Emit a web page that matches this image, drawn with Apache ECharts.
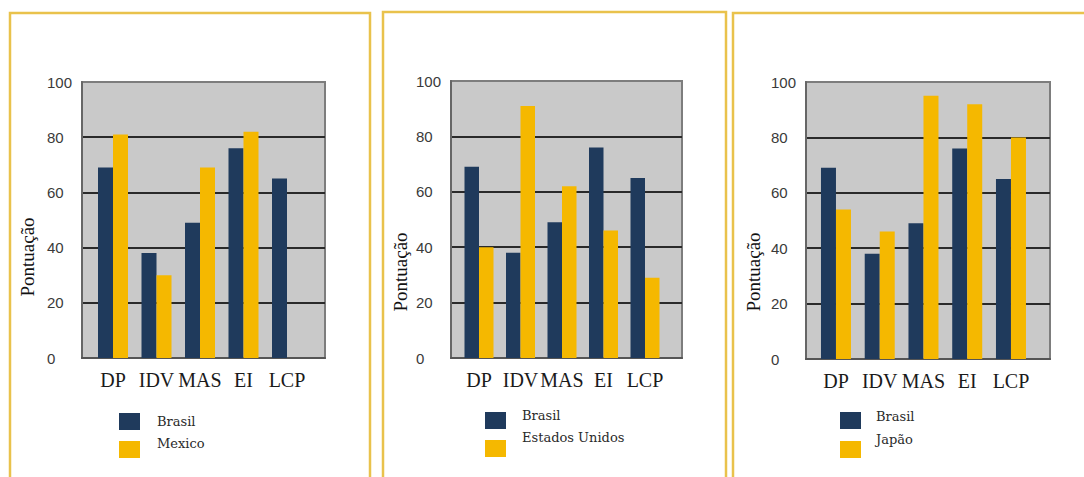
<!DOCTYPE html>
<html>
<head>
<meta charset="utf-8">
<script src="https://cdn.jsdelivr.net/npm/echarts@6/dist/echarts.min.js"></script>
<style>
html,body{margin:0;padding:0;background:#fff;}
#chart{width:1084px;height:477px;}
</style>
</head>
<body>
<div id="chart"></div>
<script>
// ---- data ----
const categories = ['DP', 'IDV', 'MAS', 'EI', 'LCP'];
const yTickMin = 0, yTickMax = 100, yTickStep = 20;
const brasil = [69, 38, 49, 76, 65];
const mexico = [81, 30, 69, 82, null];
const estadosUnidos = [40, 91, 62, 46, 29];
const japao = [54, 46, 95, 92, 80];
const nameBrasil = 'Brasil';
const nameMexico = 'Mexico';
const nameEUA = 'Estados Unidos';
const nameJapao = 'Japão';
const yTitle = 'Pontuação';

// ---- layout / style ----
const NAVY = '#1f3a5c';
const GOLD = '#f5b800';
const panels = [
  { other: mexico, otherName: nameMexico,
    frame: {x: 10, y: 13, w: 360},
    plot: {l: 82, r: 325, t: 82, b: 358},
    bars: {l: 91.25, w: 217.5}, barW: 15,
    title: {x: 27, y: 257},
    legend: {l: 119, tops: [413, 442], pad: 12, shift: [0, 13]} },
  { other: estadosUnidos, otherName: nameEUA,
    frame: {x: 383, y: 12, w: 343},
    plot: {l: 451, r: 682, t: 81, b: 358},
    bars: {l: 458.25, w: 207.5}, barW: 14.5,
    title: {x: 400, y: 272},
    legend: {l: 485, tops: [413, 441], pad: 11, shift: [10, 22]} },
  { other: japao, otherName: nameJapao,
    frame: {x: 733, y: 13, w: 400},
    plot: {l: 806, r: 1050, t: 82, b: 359},
    bars: {l: 814.1, w: 218.75}, barW: 15,
    title: {x: 753, y: 272},
    legend: {l: 840, tops: [413, 442], pad: 10, shift: [8, 20]} }
];
const LEGEND_TEXT_H = 15;

const grid = [], xAxis = [], yAxis = [], series = [], legend = [], graphic = [];
panels.forEach((p, i) => {
  const a = 2 * i, b = 2 * i + 1;
  grid.push({left: p.plot.l, width: p.plot.r - p.plot.l, top: p.plot.t, height: p.plot.b - p.plot.t,
    show: true, backgroundColor: '#c9c9c9', borderColor: '#7d7d7d', borderWidth: 2});
  grid.push({left: p.bars.l, width: p.bars.w, top: p.plot.t, height: p.plot.b - p.plot.t});
  xAxis.push({gridIndex: a, type: 'category', data: categories,
    axisLabel: {show: false}, axisTick: {show: false},
    axisLine: {lineStyle: {color: '#555', width: 2}}});
  yAxis.push({gridIndex: a, type: 'value', min: yTickMin, max: yTickMax, interval: yTickStep,
    axisLine: {show: true, lineStyle: {color: '#666', width: 2}}, axisTick: {show: false},
    splitLine: {lineStyle: {color: ['#555', '#2a2a2a', '#2a2a2a', '#2a2a2a', '#2a2a2a', '#7d7d7d'], width: 2}},
    axisLabel: {align: 'left', margin: 35, fontFamily: 'Liberation Sans', fontSize: 15, color: '#3a3a3a'}});
  xAxis.push({gridIndex: b, type: 'category', data: categories,
    axisLine: {show: false}, axisTick: {show: false},
    axisLabel: {interval: 0, hideOverlap: false, margin: 12,
      fontFamily: 'Liberation Serif', fontSize: 20, color: '#1a1a1a'}});
  yAxis.push({gridIndex: b, type: 'value', min: yTickMin, max: yTickMax, show: false});
  series.push({type: 'bar', name: nameBrasil, xAxisIndex: b, yAxisIndex: b, data: brasil,
    barWidth: p.barW, barGap: '0%', itemStyle: {color: NAVY}, z: 3});
  series.push({type: 'bar', name: p.otherName, xAxisIndex: b, yAxisIndex: b, data: p.other,
    barWidth: p.barW, barGap: '0%', itemStyle: {color: GOLD}, z: 3});
  [nameBrasil, p.otherName].forEach((nm, k) => {
    const s = p.legend.shift[k];
    const ext = Math.max(0, (LEGEND_TEXT_H + s) / 2 - 8.5);
    legend.push({orient: 'vertical', left: p.legend.l, top: p.legend.tops[k] - ext,
      itemWidth: 21, itemHeight: 17, icon: 'rect', selectedMode: false, padding: 0,
      formatter: (name) => '{s|' + name + '}',
      textStyle: {fontFamily: 'DejaVu Serif', fontSize: 13, color: '#2a2a2a',
        rich: {s: {fontFamily: 'DejaVu Serif', fontSize: 13, color: '#2a2a2a',
          padding: [0, 0, s, p.legend.pad]}}},
      data: [nm]});
  });
  graphic.push({type: 'rect', z: -10, silent: true,
    shape: {x: p.frame.x, y: p.frame.y, width: p.frame.w, height: 500},
    style: {fill: 'none', stroke: '#e9c24c', lineWidth: 2.5}});
  graphic.push({type: 'text', x: p.title.x, y: p.title.y, rotation: Math.PI / 2, silent: true,
    style: {text: yTitle, fontFamily: 'Liberation Serif', fontSize: 19, fill: '#111',
      align: 'center', verticalAlign: 'middle'}});
});

const chart = echarts.init(document.getElementById('chart'), null, {renderer: 'svg'});
chart.setOption({
  backgroundColor: '#ffffff',
  animation: false,
  grid, xAxis, yAxis, series, legend, graphic
});
</script>
</body>
</html>
